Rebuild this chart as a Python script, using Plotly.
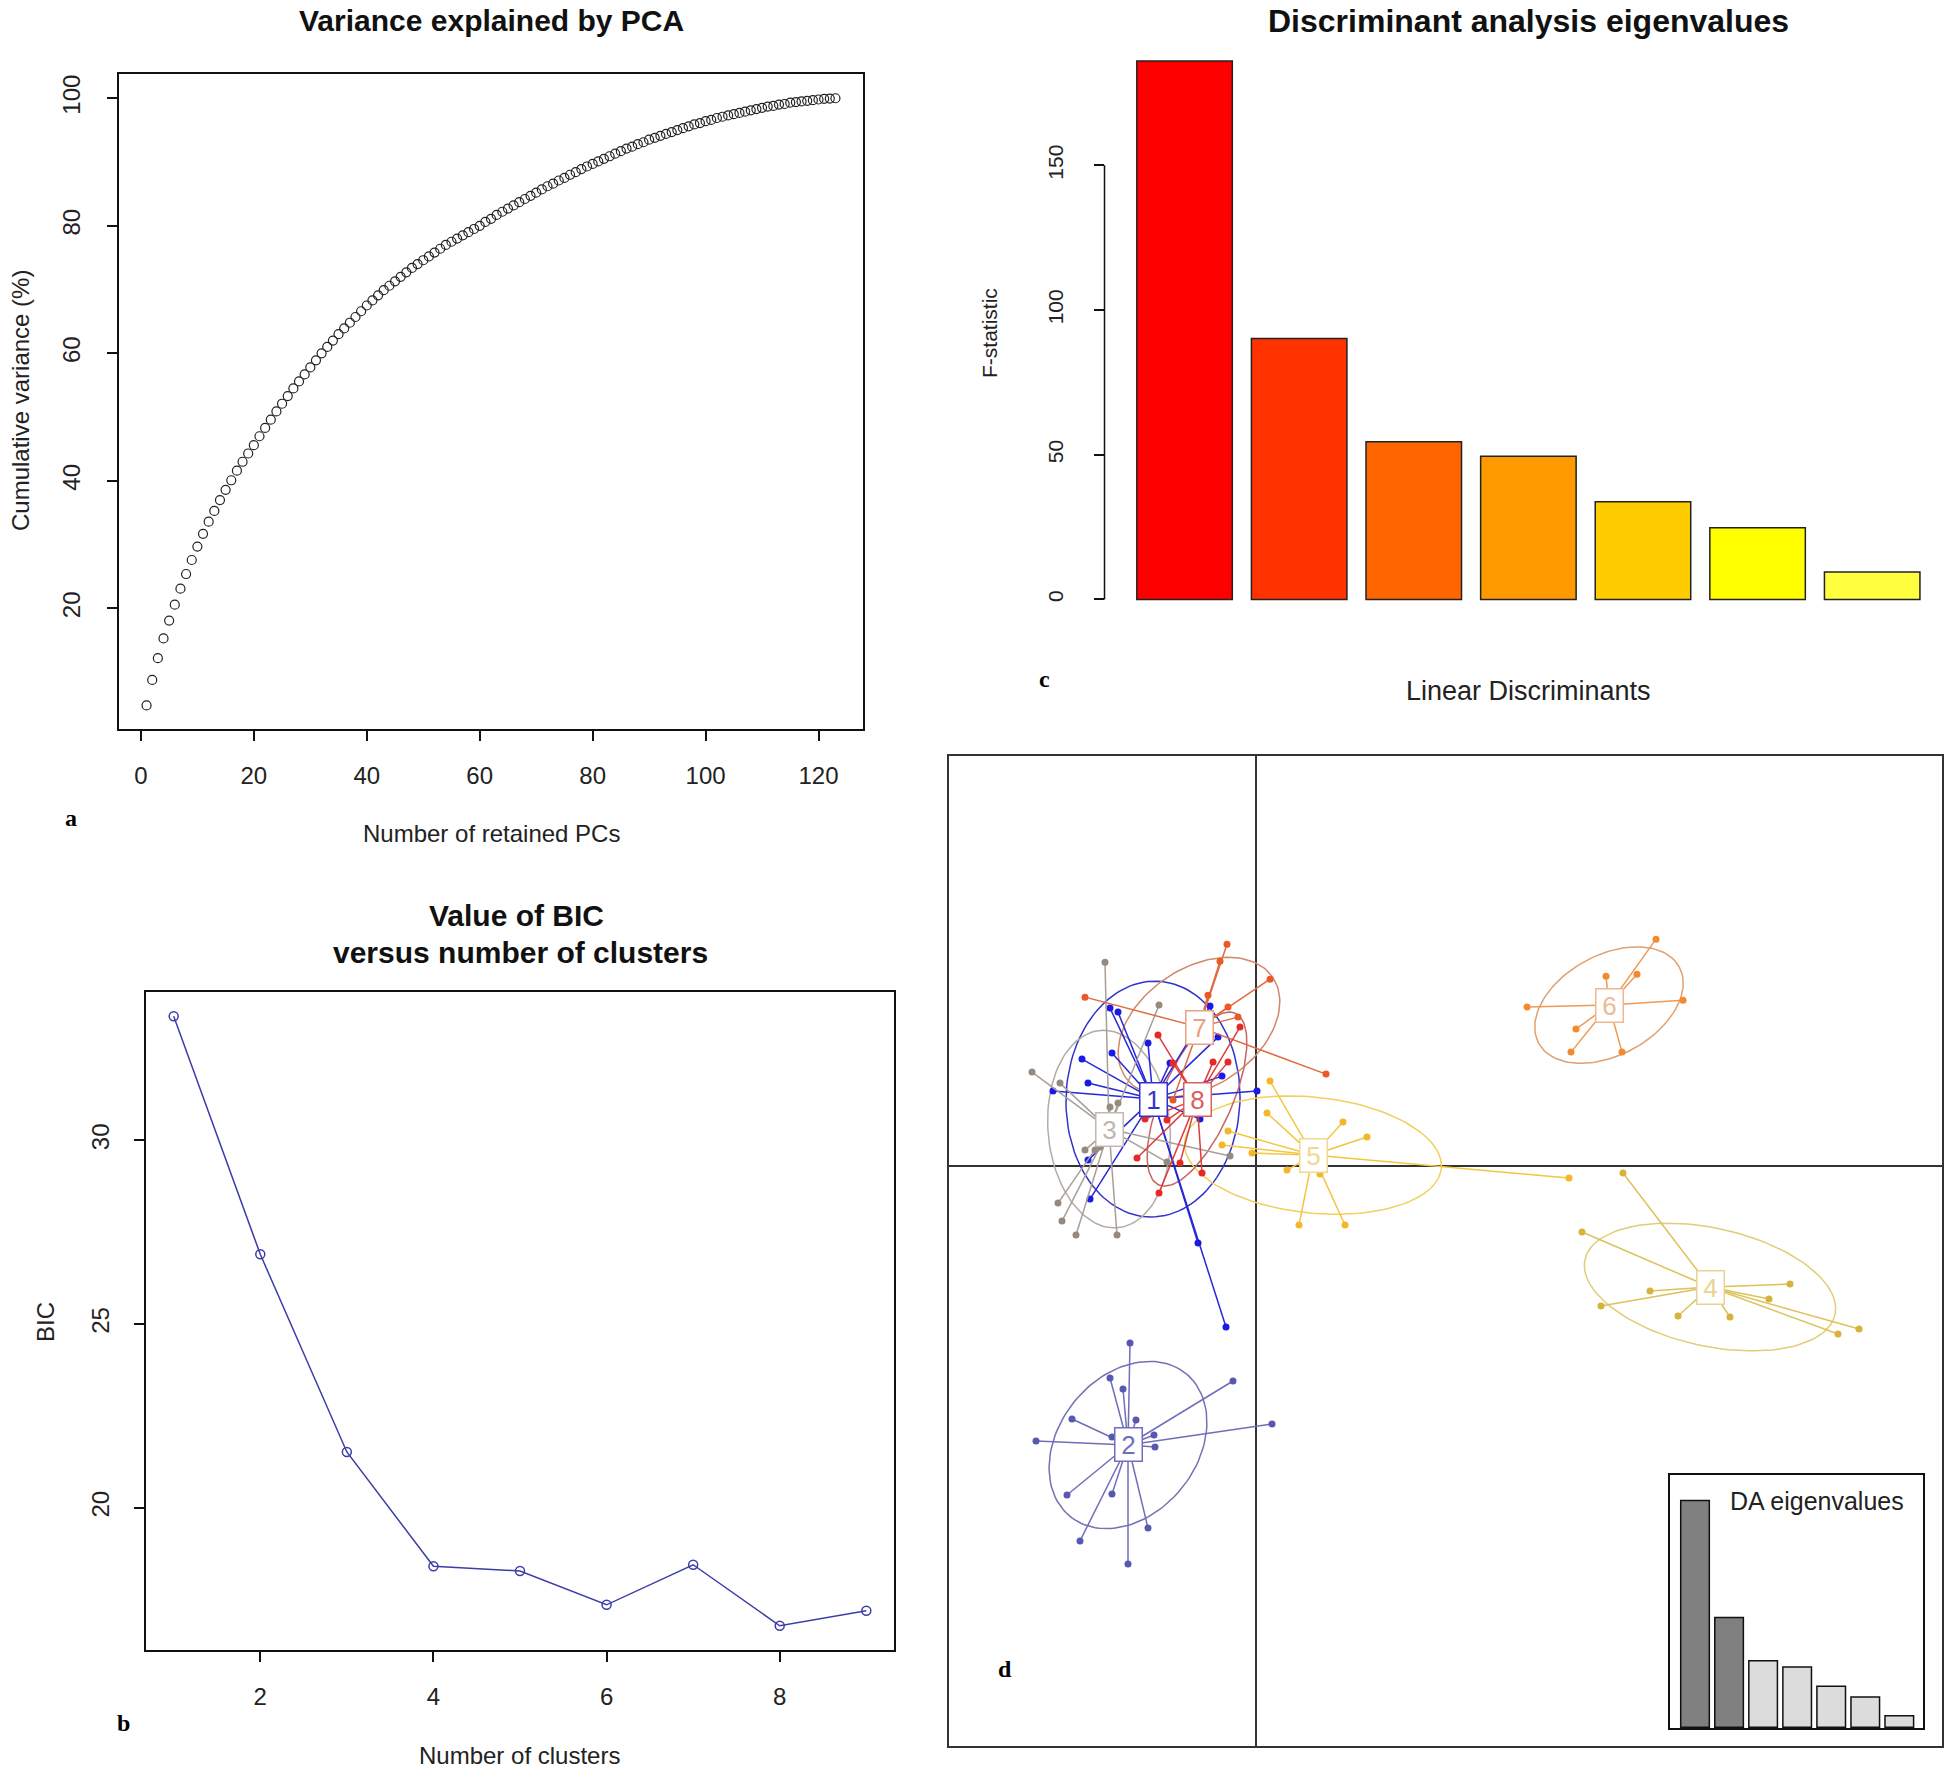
import numpy as np
import plotly.graph_objects as go

W, H = 1946, 1779

# ---- panel a: cumulative variance explained by retained PCs ----
cum_var = [
    4.8, 8.8, 12.2, 15.3, 18.1, 20.6, 23.1, 25.4, 27.6, 29.7,
    31.7, 33.6, 35.3, 37.0, 38.6, 40.1, 41.6, 43.0, 44.3, 45.6,
    47.0, 48.3, 49.6, 50.9, 52.1, 53.3, 54.5, 55.6, 56.7, 57.8,
    58.9, 60.0, 61.0, 62.0, 63.0, 63.9, 64.8, 65.7, 66.6, 67.5,
    68.3, 69.1, 69.9, 70.6, 71.3, 72.0, 72.7, 73.4, 74.0, 74.6,
    75.2, 75.8, 76.4, 77.0, 77.5, 78.0, 78.5, 79.0, 79.5, 80.0,
    80.6, 81.1, 81.7, 82.2, 82.7, 83.2, 83.7, 84.2, 84.7, 85.2,
    85.7, 86.2, 86.6, 87.1, 87.5, 88.0, 88.4, 88.9, 89.3, 89.7,
    90.1, 90.5, 90.9, 91.3, 91.7, 92.1, 92.4, 92.8, 93.1, 93.5,
    93.8, 94.1, 94.4, 94.7, 95.0, 95.3, 95.6, 95.9, 96.1, 96.4,
    96.6, 96.9, 97.1, 97.3, 97.5, 97.7, 97.9, 98.1, 98.3, 98.5,
    98.7, 98.8, 99.0, 99.1, 99.3, 99.4, 99.5, 99.6, 99.7, 99.8,
    99.9, 99.95, 100.0,
]
n_pcs = list(range(1, len(cum_var) + 1))

# ---- panel b: BIC versus number of clusters ----
n_clusters = [1, 2, 3, 4, 5, 6, 7, 8, 9]
bic = [33.38, 26.9, 21.52, 18.41, 18.28, 17.36, 18.45, 16.79, 17.2]

# ---- panel c: discriminant analysis eigenvalues ----
ld_index = [0, 1, 2, 3, 4, 5, 6]
f_stat = [186.0, 90.1, 54.5, 49.5, 33.7, 24.8, 9.5]
heat_colors = ["#FF0000", "#FF3300", "#FF6600", "#FF9900", "#FFCC00", "#FFFF00", "#FFFF40"]
n_da_kept = 2

# ---- panel d: DAPC scatter (LD1 x LD2) ----
groups = ["1", "2", "3", "4", "5", "6", "7", "8"]
center_x = [-1.03, -1.28, -1.47, 4.54, 0.57, 3.53, -0.57, -0.59]
center_y = [0.67, -2.79, 0.37, -1.21, 0.11, 1.61, 1.39, 0.67]
ell_a = [1.18, 0.92, 0.99, 1.28, 1.29, 0.80, 0.89, 0.94]
ell_b = [0.87, 0.69, 0.61, 0.59, 0.58, 0.50, 0.59, 0.35]
ell_angle = [88, 51, 95, -12.4, -6, 28.5, 34, 66]

pts1_x = [-1.46, -1.38, -0.46, -1.74, -1.44, -1.08, -0.86, -0.38, -0.34, -1.68, -2.03, 0.01, -0.56, -1.68, -1.66, -0.58, -0.30]
pts1_y = [1.58, 1.54, 1.60, 1.07, 1.13, 1.23, 1.03, 1.29, 0.90, 0.83, 0.75, 0.75, 0.47, 0.06, -0.33, -0.77, -1.61]
pts2_x = [-1.26, -1.46, -1.33, -1.20, -1.84, -1.44, -2.20, -1.02, -1.01, -0.23, 0.16, -1.89, -1.44, -1.76, -1.28, -1.08]
pts2_y = [-1.77, -2.12, -2.23, -2.54, -2.53, -2.71, -2.75, -2.69, -2.81, -2.15, -2.58, -3.29, -3.28, -3.75, -3.98, -3.62]
pts3_x = [-1.51, -0.97, -2.24, -1.96, -1.46, -1.38, -1.61, -1.56, -1.98, -1.94, -1.80, -1.39, -0.26, -0.89, -1.71]
pts3_y = [2.04, 1.61, 0.94, 0.83, 0.59, 0.63, 0.16, 0.19, -0.37, -0.55, -0.69, -0.69, 0.10, 0.04, 0.16]
pts4_x = [3.67, 3.26, 3.94, 3.45, 4.22, 4.74, 5.13, 5.34, 5.82, 6.03]
pts4_y = [-0.07, -0.66, -1.25, -1.40, -1.50, -1.51, -1.33, -1.18, -1.68, -1.63]
pts5_x = [0.14, 0.11, 0.87, 1.11, -0.28, -0.34, -0.04, 0.31, 0.64, 0.43, 0.89, 3.13]
pts5_y = [0.85, 0.53, 0.44, 0.29, 0.35, 0.21, 0.13, -0.04, -0.08, -0.59, -0.59, -0.12]
pts6_x = [2.71, 3.20, 3.15, 3.50, 3.81, 4.00, 4.27, 3.66]
pts6_y = [1.59, 1.37, 1.14, 1.90, 1.92, 2.27, 1.66, 1.14]
pts7_x = [-0.29, -0.36, -0.48, 0.14, -1.71, 0.70, -0.28, -0.18, -0.83]
pts7_y = [2.22, 2.05, 1.71, 1.87, 1.69, 0.92, 1.59, 1.49, 0.66]
pts8_x = [-0.98, -0.43, -0.28, -0.16, -1.19, -0.97, -0.76, -0.54, -1.11, -0.83, -0.89]
pts8_y = [1.31, 1.04, 1.04, 1.39, 0.08, -0.27, 0.03, -0.07, 0.47, 1.03, 0.46]

group_pts = [
    (pts1_x, pts1_y), (pts2_x, pts2_y), (pts3_x, pts3_y), (pts4_x, pts4_y),
    (pts5_x, pts5_y), (pts6_x, pts6_y), (pts7_x, pts7_y), (pts8_x, pts8_y),
]

dot_colors = ["#1A1AE6", "#5858B0", "#968A80", "#D6B43C", "#F2B829", "#F28A2E", "#EA5A28", "#E62828"]
seg_colors = ["#2828D8", "#6E6EBA", "#A8A098", "#DCC25A", "#F2C640", "#EE9A55", "#E06A40", "#DC3C3C"]
ell_colors = ["#3333CC", "#7272B4", "#B4ACA4", "#E2CC78", "#F0D060", "#E0A070", "#D08868", "#C86464"]
lab_colors = ["#3333CC", "#6F6FBF", "#C0B8B0", "#E8D490", "#F2D88A", "#F0B890", "#E8A080", "#D86060"]

FONT = "Liberation Sans, Arial, sans-serif"
SERIF = "Liberation Serif, Times New Roman, serif"
TXT = "#222222"


def fx(x):
    return x / W


def fy(y):
    return 1 - y / H


fig = go.Figure()

# panel a
fig.add_trace(go.Scatter(
    x=n_pcs, y=cum_var, mode="markers", xaxis="x", yaxis="y",
    marker=dict(symbol="circle-open", size=9, color="#222222", line=dict(width=1.2)),
))

# panel b
fig.add_trace(go.Scatter(
    x=n_clusters, y=bic, mode="lines+markers", xaxis="x2", yaxis="y2",
    line=dict(color="#3D3DA8", width=1.5),
    marker=dict(symbol="circle-open", size=9, color="#3D3DA8", line=dict(width=1.5)),
))

# panel c
fig.add_trace(go.Bar(
    x=ld_index, y=f_stat, width=0.8333, xaxis="x3", yaxis="y3",
    marker=dict(color=heat_colors, line=dict(color="#222222", width=1.5)),
))

# panel d: ellipses, segments to centroid, points
t = np.linspace(0, 2 * np.pi, 120)
for i, g in enumerate(groups):
    th = np.radians(ell_angle[i])
    ex = center_x[i] + ell_a[i] * np.cos(t) * np.cos(th) - ell_b[i] * np.sin(t) * np.sin(th)
    ey = center_y[i] + ell_a[i] * np.cos(t) * np.sin(th) + ell_b[i] * np.sin(t) * np.cos(th)
    fig.add_trace(go.Scatter(
        x=ex, y=ey, mode="lines", xaxis="x4", yaxis="y4",
        line=dict(color=ell_colors[i], width=1.5), hoverinfo="skip",
    ))
for i, g in enumerate(groups):
    px_, py_ = group_pts[i]
    sx, sy = [], []
    for x, y in zip(px_, py_):
        sx += [center_x[i], x, None]
        sy += [center_y[i], y, None]
    fig.add_trace(go.Scatter(
        x=sx, y=sy, mode="lines", xaxis="x4", yaxis="y4",
        line=dict(color=seg_colors[i], width=1.5), hoverinfo="skip",
    ))
    fig.add_trace(go.Scatter(
        x=px_, y=py_, mode="markers", xaxis="x4", yaxis="y4", name="cluster " + g,
        marker=dict(size=7, color=dot_colors[i]),
    ))

# inset: DA eigenvalues
fig.add_trace(go.Bar(
    x=ld_index, y=f_stat, width=0.84, xaxis="x5", yaxis="y5",
    marker=dict(color=["#808080" if i < n_da_kept else "#DCDCDC" for i in ld_index],
                line=dict(color="#111111", width=1.5)),
))

box_axis = dict(showline=True, linecolor="#111111", linewidth=1.5, mirror=True,
                showgrid=False, zeroline=False, ticks="outside", ticklen=10,
                tickwidth=1.5, tickcolor="#111111",
                tickfont=dict(family=FONT, size=24, color=TXT))

fig.update_layout(
    width=W, height=H, margin=dict(l=0, r=0, t=0, b=0),
    paper_bgcolor="white", plot_bgcolor="white", showlegend=False,
    xaxis=dict(box_axis, domain=[fx(119), fx(863)], range=[-3.88, 127.88], anchor="y",
               tickvals=[0, 20, 40, 60, 80, 100, 120], ticklabelstandoff=14),
    yaxis=dict(box_axis, domain=[fy(729), fy(74)], range=[1.1, 103.8], anchor="x",
               tickvals=[20, 40, 60, 80, 100], tickangle=-90, ticklabelstandoff=18),
    xaxis2=dict(box_axis, domain=[fx(146), fx(894)], range=[0.68, 9.32], anchor="y2",
                tickvals=[2, 4, 6, 8], ticklabelstandoff=14),
    yaxis2=dict(box_axis, domain=[fy(1650), fy(992)], range=[16.13, 34.04], anchor="x2",
                tickvals=[20, 25, 30], tickangle=-90, ticklabelstandoff=16),
    xaxis3=dict(domain=[fx(1104.5), 1.0], range=[-0.6986, 6.644], anchor="y3", visible=False),
    yaxis3=dict(domain=[fy(621), fy(38)], range=[-7.46, 193.96], anchor="x3",
                showline=False, showgrid=False, zeroline=False, ticks="outside",
                ticklen=10, tickwidth=1.5, tickcolor="#111111",
                tickvals=[0, 50, 100, 150], tickangle=-90, ticklabelstandoff=22,
                tickfont=dict(family=FONT, size=21, color=TXT)),
    xaxis4=dict(domain=[fx(949.4), fx(1942)], range=[-3.066, 6.86], anchor="y4",
                showline=True, linecolor="#333333", linewidth=1.5, mirror=True,
                showgrid=False, showticklabels=False, ticks="",
                zeroline=True, zerolinecolor="#333333", zerolinewidth=1.5),
    yaxis4=dict(domain=[fy(1746), fy(756)], range=[-5.801, 4.102], anchor="x4",
                showline=True, linecolor="#333333", linewidth=1.5, mirror=True,
                showgrid=False, showticklabels=False, ticks="",
                zeroline=True, zerolinecolor="#333333", zerolinewidth=1.5),
    xaxis5=dict(domain=[fx(1670), fx(1923)], range=[-0.735, 6.696], anchor="y5",
                showline=True, linecolor="#111111", linewidth=1.5, mirror=True,
                showgrid=False, zeroline=False, showticklabels=False, ticks=""),
    yaxis5=dict(domain=[fy(1728), fy(1475)], range=[-0.6, 207], anchor="x5",
                showline=True, linecolor="#111111", linewidth=1.5, mirror=True,
                showgrid=False, zeroline=False, showticklabels=False, ticks=""),
)

# y axis line of the barplot spans only the tick range
fig.add_shape(type="line", xref="x3 domain", yref="y3", x0=0, x1=0, y0=0, y1=150,
              line=dict(color="#111111", width=1.5))


def note(text, x, y, size, bold=False, angle=0, family=FONT, color=TXT, xanchor="center"):
    fig.add_annotation(
        text=f"<b>{text}</b>" if bold else text, x=fx(x), y=fy(y),
        xref="paper", yref="paper", showarrow=False, textangle=angle,
        xanchor=xanchor, yanchor="middle", font=dict(family=family, size=size, color=color),
    )


note("Variance explained by PCA", 491, 20, 30, bold=True, color="#111111")
note("Number of retained PCs", 491, 833, 24)
note("Cumulative variance (%)", 20, 401, 24, angle=-90)
note("a", 71, 818, 24, bold=True, family=SERIF, color="#000000")

note("Value of BIC", 516, 916, 30, bold=True, color="#111111")
note("versus number of clusters", 520, 952, 30, bold=True, color="#111111")
note("Number of clusters", 519, 1755, 24)
note("BIC", 45, 1322, 24, angle=-90)
note("b", 123, 1723, 24, bold=True, family=SERIF, color="#000000")

note("Discriminant analysis eigenvalues", 1528, 21, 32, bold=True, color="#111111")
note("F-statistic", 989, 333, 21, angle=-90)
note("Linear Discriminants", 1528, 691, 27)
note("c", 1044, 679, 24, bold=True, family=SERIF, color="#000000")

note("d", 1005, 1669, 24, bold=True, family=SERIF, color="#000000")
note("DA eigenvalues", 1906, 1501, 25, xanchor="right")

for i, g in enumerate(groups):
    fig.add_annotation(
        text=g, x=center_x[i], y=center_y[i], xref="x4", yref="y4", showarrow=False,
        width=24, height=30, borderpad=1, bgcolor="white",
        bordercolor=lab_colors[i], borderwidth=1.5,
        font=dict(family=FONT, size=26, color=lab_colors[i]),
    )

fig.write_html("out.html", config={"displayModeBar": False},
               post_script="document.body.style.margin='0';")
